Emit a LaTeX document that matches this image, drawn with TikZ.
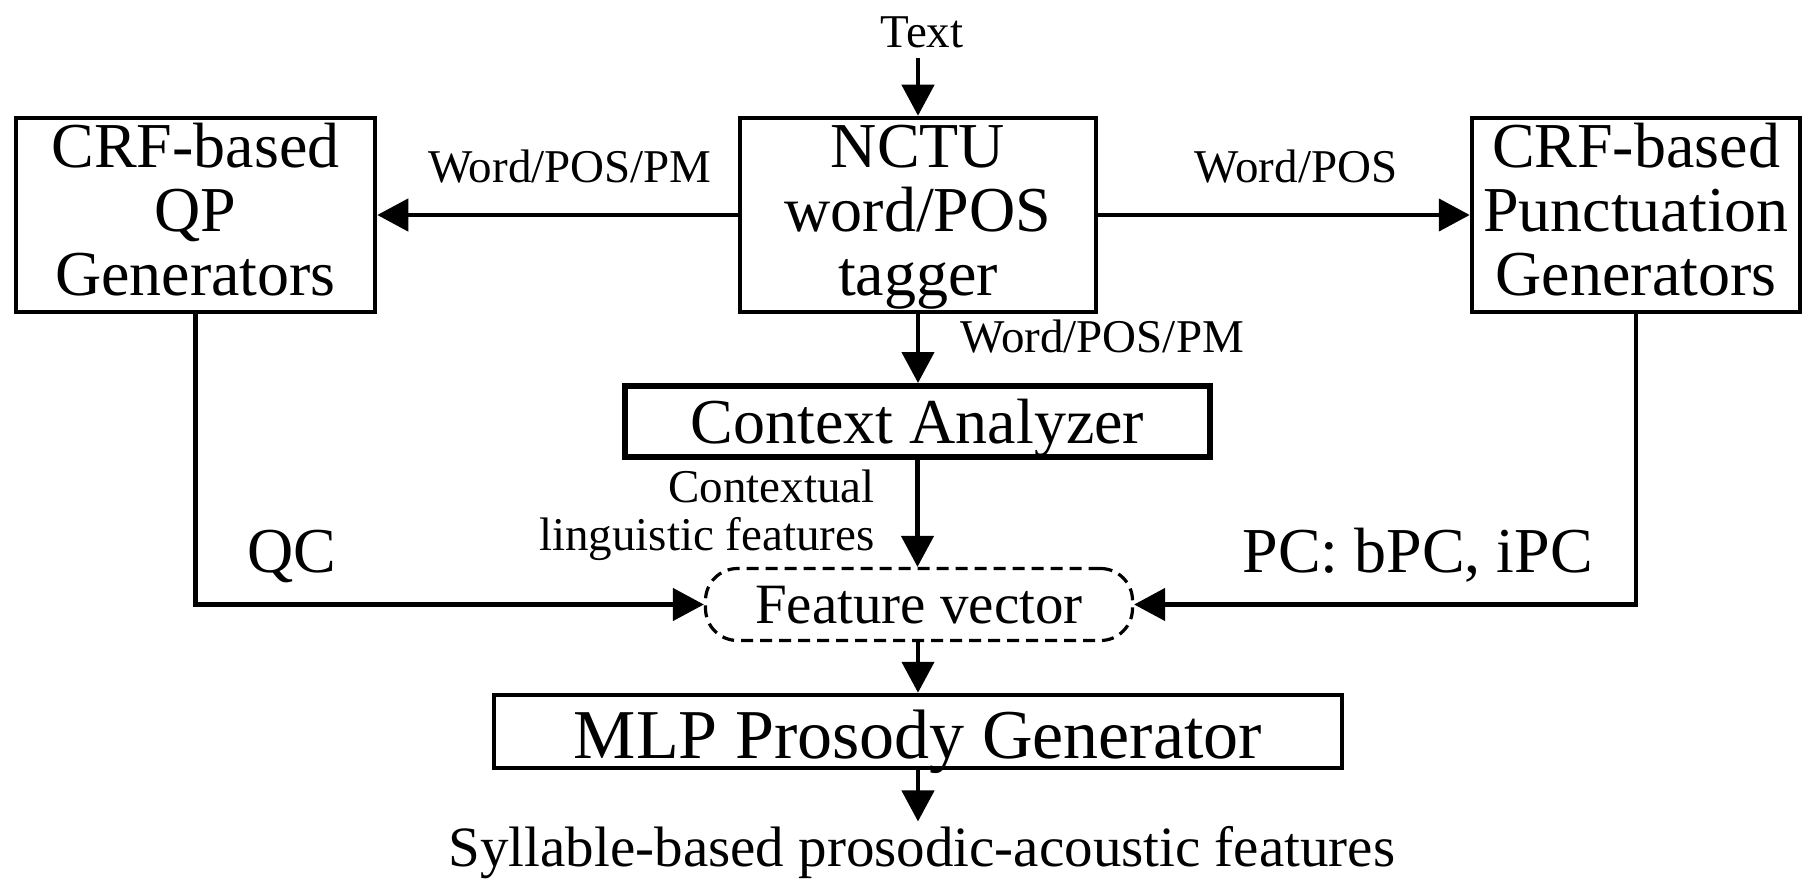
\documentclass[tikz,border=0pt]{standalone}
\usepackage{fontspec}
\setmainfont{Liberation Serif}
\usetikzlibrary{arrows.meta}
\newcommand{\fbig}{\fontsize{32pt}{32pt}\selectfont}
\newcommand{\fsmall}{\fontsize{23.5pt}{24pt}\selectfont}
\newcommand{\fmid}{\fontsize{28.5pt}{28.5pt}\selectfont}
\newcommand{\fmlp}{\fontsize{35pt}{35pt}\selectfont}
\begin{document}
\begin{tikzpicture}[x=0.5pt,y=-0.5pt,
  box/.style={draw, line width=2.25pt, inner sep=0pt, font=\fbig},
  tallbox/.style={box, minimum height=97pt, text height=84pt, text depth=4pt},
  arr/.style={line width=2.25pt, -{Triangle[length=15.5pt,width=16pt]}},
  lbl/.style={inner sep=0pt, font=\fsmall},
  biglbl/.style={inner sep=0pt, font=\fbig}]
\useasboundingbox (0,0) rectangle (1802,882);

% boxes
\node[tallbox, minimum width=179.5pt] (lbox) at (195.5,215)
  {\begin{tabular}[b]{@{}c@{}}CRF-based\\QP\\Generators\end{tabular}};
\node[tallbox, minimum width=178pt] (nctu) at (918,215)
  {\begin{tabular}[b]{@{}c@{}}NCTU\\word/POS\\tagger\end{tabular}};
\node[tallbox, minimum width=164pt] (rbox) at (1636,215)
  {\begin{tabular}[b]{@{}c@{}}CRF-based\\Punctuation\\Generators\end{tabular}};
\node[box, line width=3pt, minimum width=292.5pt, minimum height=35.5pt,
      text height=25pt, text depth=3.5pt] (ctx) at (917.5,421.5) {Context Analyzer};
\node[draw, line width=1.6pt, dash pattern=on 6pt off 3.5pt, rounded corners=16pt,
      inner sep=0pt, minimum width=213.5pt, minimum height=36pt, font=\fmid,
      text height=22pt, text depth=3.5pt] (fv) at (919,604.5) {Feature vector};
\node[box, minimum width=424pt, minimum height=36.5pt, font=\fmlp,
      text height=30pt, text depth=3.5pt] (mlp) at (918,731.5) {MLP Prosody Generator};

% labels
\node[lbl, anchor=base] (txt) at (922,48) {Text};
\node[lbl, anchor=base] (l1) at (570,183) {Word/POS/PM};
\node[lbl, anchor=base] (l2) at (1296,183) {Word/POS};
\node[lbl, anchor=base west] (l3) at (960,352) {Word/POS/PM};
\node[lbl, anchor=base east] (l4) at (875,550)
  {\begin{tabular}[b]{@{}r@{}}Contextual\\linguistic features\end{tabular}};
\node[biglbl, anchor=base west] (qc) at (247,572) {QC};
\node[biglbl, anchor=base west] (pc) at (1242,572) {PC: bPC, iPC};
\node[inner sep=0pt, font=\fmid, anchor=base] (out) at (922,866)
  {Syllable-based prosodic-acoustic features};

% connectors
\draw[arr, shorten <=4.5pt] (txt.south -| nctu.north) -- (nctu.north);
\draw[arr] (nctu.west) -- (lbox.east);
\draw[arr] (nctu.east) -- (rbox.west);
\draw[arr] (nctu.south) -- (nctu.south |- ctx.north);
\draw[arr] (ctx.south) -- (ctx.south |- fv.north);
\draw[arr] (lbox.south) |- (fv.west);
\draw[arr] (rbox.south) |- (fv.east);
\draw[arr] (fv.south -| mlp.north) -- (mlp.north);
\draw[arr, shorten >=2pt] (mlp.south) -- (mlp.south |- out.north);
\end{tikzpicture}
\end{document}
